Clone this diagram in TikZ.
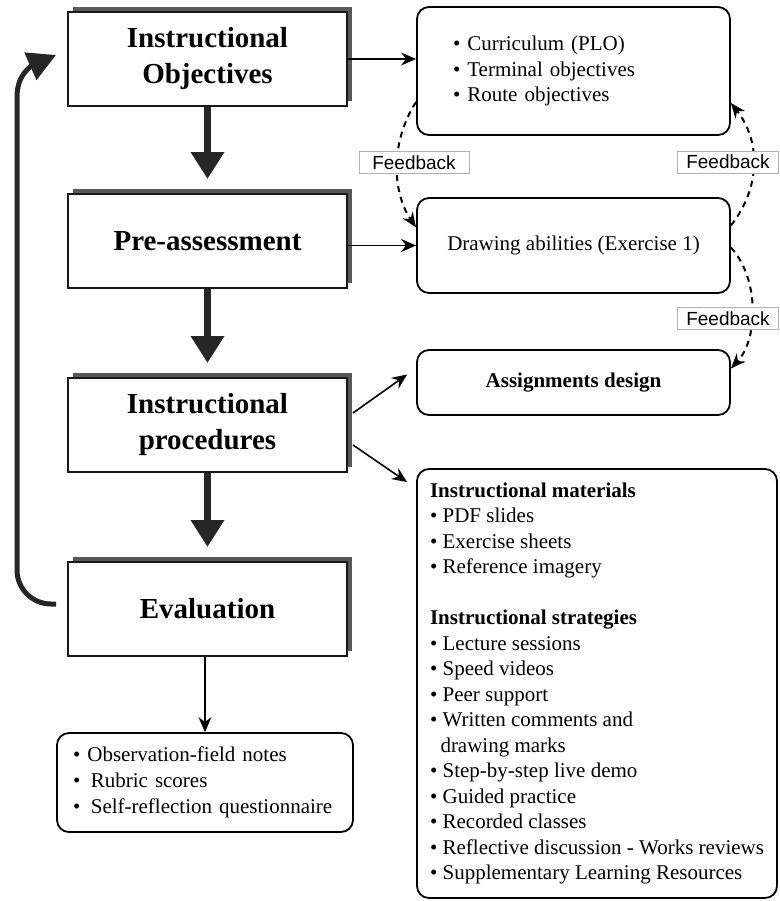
\documentclass[tikz,border=0pt]{standalone}
\usepackage{fontspec}
\setmainfont{Liberation Serif}
\setsansfont{Liberation Sans}
\usetikzlibrary{arrows.meta,positioning,calc,shadows}
\tikzset{
  lepes/.style={draw=black!90,line width=1pt,fill=white,minimum width=139.5pt,minimum height=47pt,
    align=center,font=\bfseries\fontsize{14.5}{18}\selectfont,
    general shadow={fill=black!65,shadow xshift=2.5pt,shadow yshift=2.5pt}},
  dob/.style={draw,line width=0.9pt,rounded corners=6pt,fill=white,align=left,
    font=\fontsize{10.5}{12.75}\selectfont},
  vastag/.style={line width=3.5pt,black!85,-{Triangle[width=16pt,length=13.5pt]},shorten >=7pt},
  nyil/.style={line width=0.8pt,-{Stealth[length=7.5pt,width=6.5pt]}},
  hurok/.style={line width=2.5pt,black!85,-{Triangle[width=14.5pt,length=14pt]}},
  visz/.style={line width=1pt,dash pattern=on 3pt off 2.5pt,-{Stealth[length=7.5pt,width=6pt]}},
  cimke/.style={draw=black!30,line width=0.4pt,fill=white,inner xsep=4.5pt,inner ysep=2pt,
    font=\sffamily\fontsize{9.5}{11}\selectfont},
}
\begin{document}
\begin{tikzpicture}[x=0.5pt,y=-0.5pt]
  \useasboundingbox (0,0) rectangle (780,901);
  % bal oszlop
  \node[lepes] (cel) at (207.5,59) {Instructional\\Objectives};
  \node[lepes] (elo) at (207.5,241) {Pre-assessment};
  \node[lepes] (elj) at (207.5,425) {Instructional\\procedures};
  \node[lepes] (ert) at (207.5,609) {Evaluation};
  \draw[vastag] (cel) -- (elo);
  \draw[vastag] (elo) -- (elj);
  \draw[vastag] (elj) -- (ert);
  \coordinate (hurokkezd) at ([xshift=-5.5pt,yshift=2.5pt]ert.west);
  \coordinate (hurokvege) at ([xshift=-5.5pt,yshift=2pt]cel.west);
  \draw[hurok] (hurokkezd) -- (51,604) arc[start angle=270,end angle=180,radius=17pt]
    -- (17,98) .. controls (17,82) and (22,74) .. (31,66) -- (hurokvege);
  % jobb oszlop
  \node[dob,text width=120.5pt,inner xsep=18pt,minimum height=64pt] (tant) at (573.5,71)
    {• Curriculum (PLO)\\• Terminal objectives\\• Route objectives};
  \node[dob,minimum width=156.5pt,minimum height=47.5pt] (rajz) at (573.5,245.5)
    {Drawing abilities (Exercise 1)};
  \node[dob,minimum width=156.5pt,minimum height=32.5pt,align=center,
    font=\bfseries\fontsize{10.5}{12.75}\selectfont] (feladat) at (573.5,382.5) {Assignments design};
  \node[dob,minimum width=180pt,minimum height=214.5pt] (anyag) at (597,683.5)
    {\textbf{Instructional materials}\\• PDF slides\\• Exercise sheets\\• Reference imagery\\[12.75pt]
     \textbf{Instructional strategies}\\• Lecture sessions\\• Speed videos\\• Peer support\\
     • Written comments and\\\hspace*{0.5em}drawing marks\\• Step-by-step live demo\\
     • Guided practice\\• Recorded classes\\• Reflective discussion - Works reviews\\
     • Supplementary Learning Resources};
  \node[dob,text width=132pt,inner xsep=8pt,minimum height=49.5pt,font=\fontsize{10.5}{13}\selectfont]
    (mer) at (205,782.5)
    {• Observation-field notes\\•\hspace{0.5em}Rubric scores\\•\hspace{0.5em}Self-reflection questionnaire};
  \draw[nyil] (cel.east) -- (cel.east -| tant.west);
  \draw[nyil] (rajz.west -| elo.east) -- (rajz.west);
  \draw[nyil] ([xshift=2.5pt,yshift=6pt]elj.east) -- ([xshift=-4.5pt,yshift=4pt]feladat.west);
  \draw[nyil] ([xshift=2.5pt,yshift=-10pt]elj.east) -- ([xshift=-4.5pt,yshift=-7pt]anyag.north west);
  \draw[nyil] (mer.north |- ert.south) -- (mer.north);
  % visszacsatolas
  \draw[visz] ([yshift=-15.5pt]tant.west) .. controls +(-25,38) and +(-25,-37) .. ([yshift=9pt]rajz.west);
  \draw[visz] ([yshift=10pt]rajz.east) .. controls +(30,-38) and +(30,38) .. ([yshift=-16pt]tant.east);
  \draw[visz] ([yshift=-1pt]rajz.east) .. controls +(28,30) and +(28,-30) .. ([yshift=7pt]feladat.east);
  \node[cimke,minimum width=55pt] (vissza1) at (414,162.5) {Feedback};
  \node[cimke] (vissza2) at (728,162) {Feedback};
  \node[cimke] (vissza3) at (728,318.5) {Feedback};
\end{tikzpicture}
\end{document}
